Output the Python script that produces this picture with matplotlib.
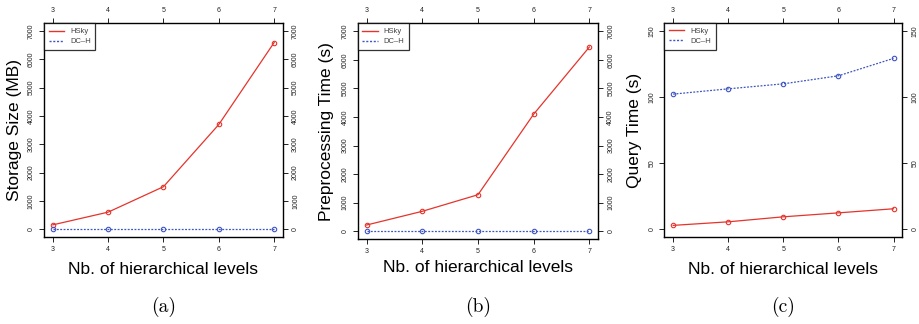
import matplotlib
matplotlib.use("Agg")
import matplotlib.pyplot as plt
from matplotlib.lines import Line2D

plt.rcParams["font.family"] = ["Liberation Sans", "DejaVu Sans"]

levels = [3, 4, 5, 6, 7]

storage_hsky = [150, 600, 1500, 3700, 6600]
storage_dch = [5, 5, 5, 5, 5]

prep_hsky = [220, 700, 1280, 4100, 6450]
prep_dch = [5, 5, 5, 5, 5]

query_hsky = [2.6, 5.3, 9.1, 12.1, 15.2]
query_dch = [102.2, 106.2, 110.0, 116.1, 129.3]

RED = "#E5342C"
BLUE = "#3F55C0"
DOTS = (0, (1.5, 1.2))

panels = [
    dict(rect=[0.0478, 0.2685, 0.2598, 0.6596], hsky=storage_hsky, dch=storage_dch,
         ylim=(-280, 7280), yticks=range(0, 7001, 1000), ylabel="Storage Size (MB)",
         ylab_x=15, xlab_y=270, cap_y=307, cap="(a)"),
    dict(rect=[0.3888, 0.2614, 0.2615, 0.6667], hsky=prep_hsky, dch=prep_dch,
         ylim=(-280, 7280), yticks=range(0, 7001, 1000), ylabel="Preprocessing Time (s)",
         ylab_x=327, xlab_y=268, cap_y=307, cap="(b)"),
    dict(rect=[0.7221, 0.2694, 0.2587, 0.6590], hsky=query_hsky, dch=query_dch,
         ylim=(-6, 156), yticks=[0, 50, 100, 150], ylabel="Query Time (s)",
         ylab_x=635, xlab_y=270, cap_y=307, cap="(c)"),
]

W, H = 920, 324
fig = plt.figure(figsize=(W / 100, H / 100), dpi=100)

handles = [Line2D([], [], color=RED, lw=1.0),
           Line2D([], [], color=BLUE, lw=1.0, ls=DOTS)]

for p in panels:
    ax = fig.add_axes(p["rect"])
    ax.plot(levels, p["hsky"], color=RED, lw=0.9, marker="o", ms=3.2,
            mfc="none", mew=0.8)
    ax.plot(levels, p["dch"], color=BLUE, lw=0.9, ls=DOTS, marker="o", ms=3.2,
            mfc="none", mew=0.8)
    ax.set_xlim(2.84, 7.16)
    ax.set_ylim(*p["ylim"])
    ax.set_xticks(levels)
    ax.set_yticks(list(p["yticks"]))
    ax.tick_params(which="both", direction="out", length=3.5, width=0.7,
                   labelsize=5, colors="#222222", pad=3,
                   top=True, right=True, labeltop=True, labelright=True)
    for lab in ax.get_yticklabels():
        lab.set_rotation(90)
        lab.set_va("center")
    for s in ax.spines.values():
        s.set_linewidth(1.0)
    leg = ax.legend(handles, ["HSky", "DC\u2013H"], loc="upper left", fontsize=5.5,
                    frameon=True, fancybox=False, borderaxespad=0,
                    handlelength=2.0, borderpad=0.6, labelspacing=0.35,
                    handletextpad=0.8)
    leg.get_frame().set_edgecolor("black")
    leg.get_frame().set_linewidth(0.9)
    for t in leg.get_texts():
        t.set_color("#444444")

    cx = (p["rect"][0] + p["rect"][2] / 2)
    fig.text(p["ylab_x"] / W, p["rect"][1] + p["rect"][3] / 2, p["ylabel"],
             rotation=90, ha="center", va="center", fontsize=12.5)
    fig.text(cx, 1 - p["xlab_y"] / H, "Nb. of hierarchical levels",
             ha="center", va="center", fontsize=12.5)
    fig.text(cx, 1 - p["cap_y"] / H, p["cap"], ha="center", va="center",
             fontsize=14, family=["cmr10"])

fig.savefig("out.png", dpi=100)
